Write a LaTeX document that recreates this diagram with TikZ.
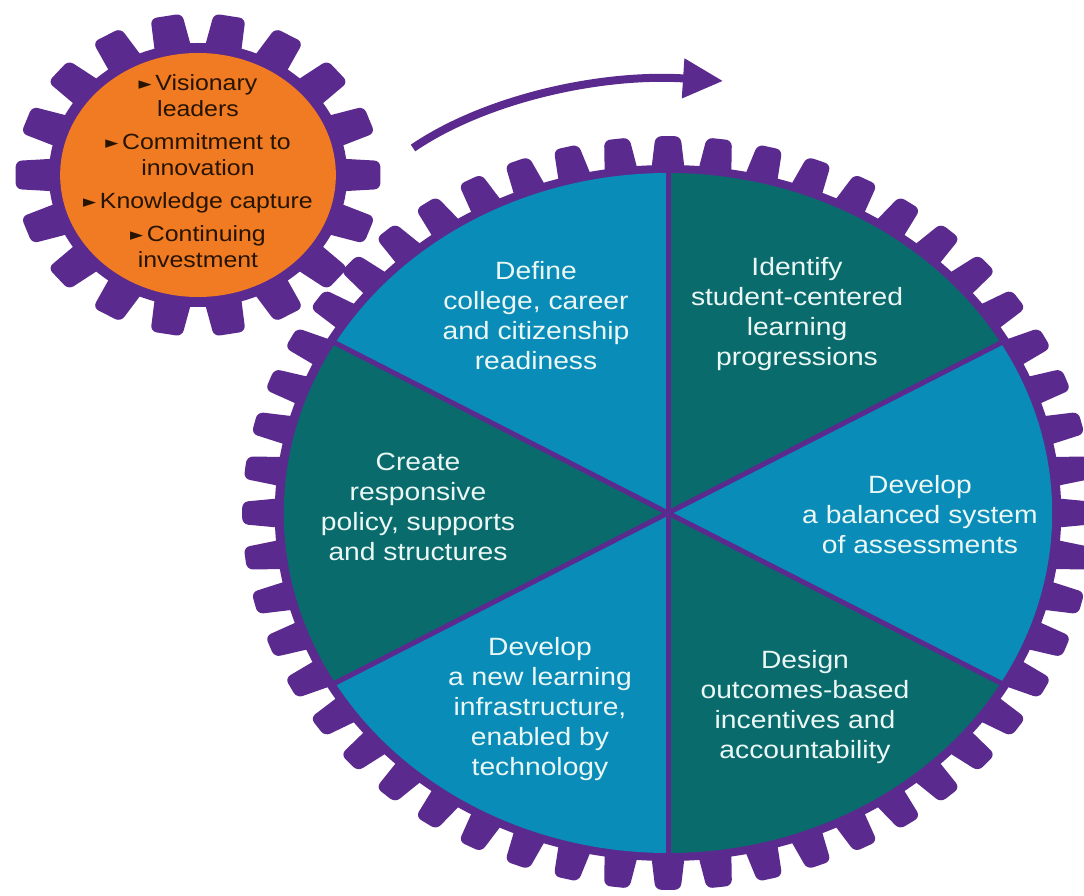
\documentclass[tikz,border=0pt]{standalone}
\usepackage{fontspec}
\setmainfont{Liberation Sans}[FakeStretch=1.13]
\newfontfamily\symfont{DejaVu Sans}
\usetikzlibrary{arrows.meta}
\definecolor{gearpurple}{HTML}{5A2A8E}
\definecolor{gearorange}{HTML}{F07B22}
\definecolor{pieblue}{HTML}{0A8CB8}
\definecolor{pieteal}{HTML}{0A6B6C}
\definecolor{pietext}{HTML}{EAF7F5}
\newcommand{\pointer}{{\symfont\fontsize{17}{17}\selectfont\raisebox{0.5pt}{►}}\,}

\begin{document}
\begin{tikzpicture}[x=1pt, y=1pt,
    sector/.style={align=center, text=pietext, font=\fontsize{25}{30}\selectfont},
    drivers/.style={align=center, text=black!85!orange, font=\fontsize{22}{26}\selectfont}]
    \useasboundingbox (0,0) rectangle (1084,895);
    % small gear
    \begin{scope}[shift={(198,720)}, xscale=1.13]
        \foreach \a in {0,20,...,340}
            \fill[gearpurple, rounded corners=6pt] ({\a-7.5}:126) -- ({\a-5}:162) -- ({\a+5}:162) -- ({\a+7.5}:126) -- cycle;
        \fill[gearpurple] (0,0) circle (132);
        \fill[gearorange] (0,0) circle (122);
    \end{scope}
    % big gear
    \begin{scope}[shift={(668,382)}, xscale=1.13]
        \foreach \a in {0,...,51}
            \fill[gearpurple, rounded corners=6pt] ({6.9231*\a-2.5}:342) -- ({6.9231*\a-1.7}:377) -- ({6.9231*\a+1.7}:377) -- ({6.9231*\a+2.5}:342) -- cycle;
        \fill[gearpurple] (0,0) circle (348);
        \fill[pieblue] (0,0) -- (90:340) arc (90:150:340) -- cycle;
        \fill[pieteal] (0,0) -- (30:340) arc (30:90:340) -- cycle;
        \fill[pieblue] (0,0) -- (-30:340) arc (-30:30:340) -- cycle;
        \fill[pieteal] (0,0) -- (270:340) arc (270:330:340) -- cycle;
        \fill[pieblue] (0,0) -- (210:340) arc (210:270:340) -- cycle;
        \fill[pieteal] (0,0) -- (150:340) arc (150:210:340) -- cycle;
        \foreach \a in {30,90,...,330}
            \draw[gearpurple, line width=5pt] (0,0) -- (\a:342);
    \end{scope}
    % turning arrow
    \coordinate (arrowstart) at (413,747);
    \coordinate (arrowend) at (723,814);
    \draw[gearpurple, line width=8pt, -{Triangle[length=40pt, width=38pt]}] (arrowstart) .. controls (485,796) and (600,822) .. (arrowend);
    % texts
    \node[drivers] (enablers) at (198,724) {\pointer Visionary\\leaders\\[7pt]\pointer Commitment to\\innovation\\[7pt]\pointer Knowledge capture\\[7pt]\pointer Continuing\\investment};
    \node[sector] (define) at (536,579) {Define\\college, career\\and citizenship\\readiness};
    \node[sector] (identify) at (797,581) {Identify\\student-centered\\learning\\progressions};
    \node[sector] (create) at (418,388) {Create\\responsive\\policy, supports\\and structures};
    \node[sector] (balance) at (920,380) {Develop\\a balanced system\\of assessments};
    \node[sector] (infra) at (540,186) {Develop\\a new learning\\infrastructure,\\enabled by\\technology};
    \node[sector] (design) at (805,188) {Design\\outcomes-based\\incentives and\\accountability};
\end{tikzpicture}
\end{document}
